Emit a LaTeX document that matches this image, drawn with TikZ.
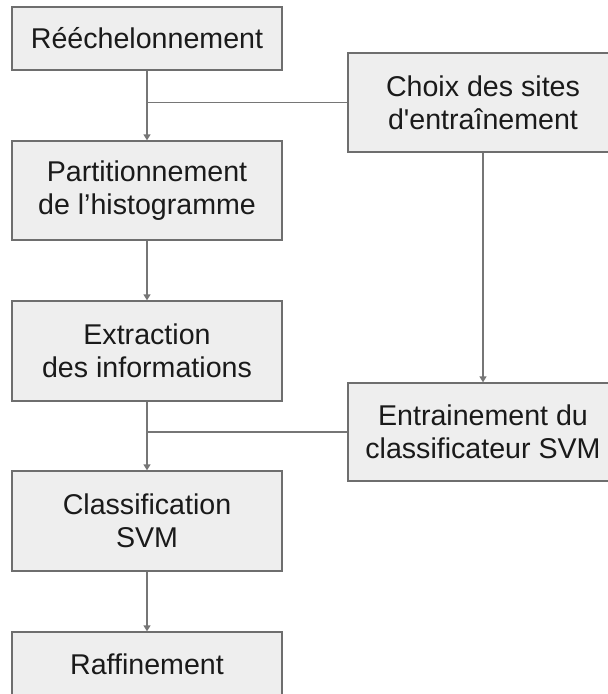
\documentclass[tikz,border=0pt]{standalone}
\usepackage{fontspec}
\setmainfont{Liberation Sans}[Ligatures=TeXOff]
\usetikzlibrary{arrows.meta}
\definecolor{boxfill}{HTML}{EEEEEE}
\definecolor{boxline}{HTML}{6E6E6E}
\definecolor{wire}{HTML}{767676}
\definecolor{ink}{HTML}{1A1A1A}
\begin{document}
\begin{tikzpicture}[x=1pt,y=-1pt,
  stepbox/.style={draw=boxline, fill=boxfill, line width=1.3pt, rectangle,
    minimum width=270pt, inner sep=0pt, align=center, text=ink,
    font=\fontsize{28.6pt}{33pt}\selectfont},
  wireline/.style={draw=wire, line width=1.3pt},
  flow/.style={wireline, -{Triangle[length=6pt,width=7pt]}}]
  \useasboundingbox (0,0) rectangle (608,694);
  \clip (0,0) rectangle (608,694);

  % main processing chain
  \node[stepbox, minimum height=63pt]  (resc)  at (147,38.5) {Rééchelonnement};
  \node[stepbox, minimum height=99pt]  (part)  at (147,190.5) {Partitionnement\\de l’histogramme};
  \node[stepbox, minimum height=100pt] (extr)  at (147,351) {Extraction\\des informations};
  \node[stepbox, minimum height=100pt] (clas)  at (147,521) {Classification\\SVM};
  \node[stepbox, minimum height=64pt]  (raff)  at (147,664) {Raffinement};

  % training branch
  \node[stepbox, minimum height=99pt]  (sites) at (483,102.5) {Choix des sites\\d'entraînement};
  \node[stepbox, minimum height=98pt]  (train) at (483,432) {Entrainement du\\classificateur SVM};

  % junction points on the main line
  \coordinate (j1) at (147,102.5);
  \coordinate (j2) at (147,432);

  \draw[flow] (resc.south) -- (part.north);
  \draw[flow] (part.south) -- (extr.north);
  \draw[flow] (extr.south) -- (clas.north);
  \draw[flow] (clas.south) -- (raff.north);
  \draw[flow] (sites.south) -- (train.north);
  \draw[wireline] (sites.west) -- (j1);
  \draw[wireline] (train.west) -- (j2);
\end{tikzpicture}
\end{document}
